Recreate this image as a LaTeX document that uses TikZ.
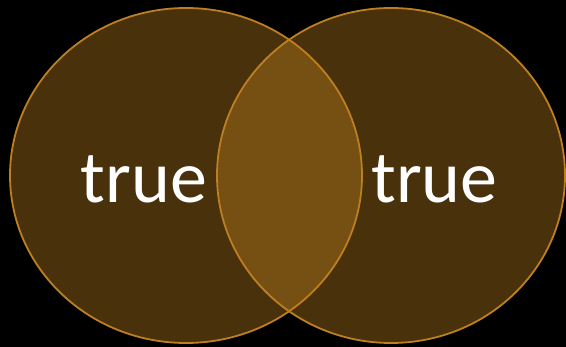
\documentclass[tikz,border=0pt]{standalone}
\usepackage{fontspec}
\setmainfont{Carlito}
\definecolor{vennorange}{HTML}{C4861F}
\definecolor{vennedge}{HTML}{BE7F22}
\begin{document}
\begin{tikzpicture}[x=1pt, y=1pt]
  \fill[black] (0,0) rectangle (566,347);
  \useasboundingbox (0,0) rectangle (566,347);
  \coordinate (L) at (186,171.5);
  \coordinate (R) at (391,171.5);
  \fill[vennorange, fill opacity=0.37] (L) ellipse [x radius=176, y radius=167.5];
  \fill[vennorange, fill opacity=0.37] (R) ellipse [x radius=174, y radius=167.5];
  \draw[vennedge, line width=1.8pt] (L) ellipse [x radius=176, y radius=167.5];
  \draw[vennedge, line width=1.8pt] (R) ellipse [x radius=174, y radius=167.5];
  \node[white, font=\fontsize{74}{80}\selectfont, anchor=base, inner sep=0pt] (lt) at (144,144) {true};
  \node[white, font=\fontsize{74}{80}\selectfont, anchor=base, inner sep=0pt] (rt) at (434.5,144) {true};
\end{tikzpicture}
\end{document}
